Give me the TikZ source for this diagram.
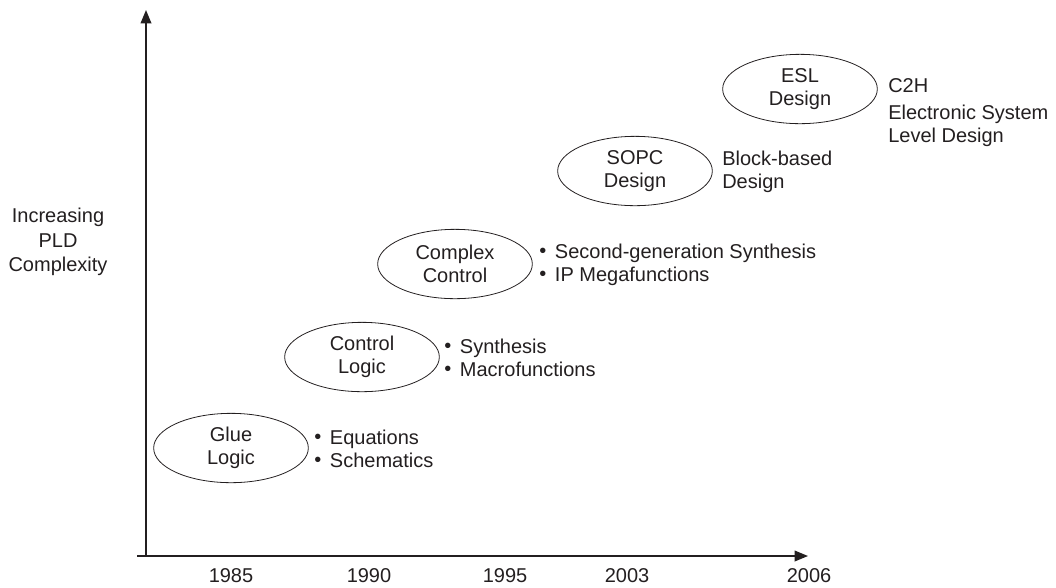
\documentclass[tikz,border=0pt]{standalone}
\usepackage{fontspec}
\setmainfont{Liberation Sans}
\usetikzlibrary{shapes.geometric,arrows.meta}
\definecolor{ink}{HTML}{231F20}
\newcommand{\bul}{{\raisebox{0.8pt}{\textbullet}}\hspace{6.5pt}}
\begin{document}
\begin{tikzpicture}[x=0.75pt,y=-0.75pt,
  every node/.style={text=ink,font=\fontsize{15}{17.5}\selectfont,inner sep=0pt},
  era/.style={draw=ink,ellipse,line width=0.6pt,minimum width=116pt,minimum height=52pt,align=center},
  notes/.style={anchor=west,align=left},
  axis/.style={draw=ink,line width=1.1pt,-{Triangle[length=10pt,width=8pt]}},
  year/.style={anchor=base}]
\useasboundingbox (0,0) rectangle (1056,587);
\coordinate (O) at (146,556);
\coordinate (ytip) at (146,10);
\coordinate (xtip) at (808,556);
\coordinate (xstart) at (137,556);
\draw[axis] (O) -- (ytip);
\draw[axis] (xstart) -- (xtip);
\node[align=center,font=\fontsize{15}{18.5}\selectfont] (ylab) at (58,242) {Increasing\\PLD\\Complexity};
\node[year] (y1985) at (231,582) {1985};
\node[year] (y1990) at (369,582) {1990};
\node[year] (y1995) at (505,582) {1995};
\node[year] (y2003) at (627,582) {2003};
\node[year] (y2006) at (809,582) {2006};
\node[era] (glue) at (231,448) {Glue\\Logic};
\node[era] (ctrl) at (362,357) {Control\\Logic};
\node[era] (cplx) at (455,264) {Complex\\Control};
\node[era] (sopc) at (635,171) {SOPC\\Design};
\node[era] (esl) at (800,89) {ESL\\Design};
\node[notes] (n1) at (314,449) {\bul Equations\\\bul Schematics};
\node[notes] (n2) at (444,358) {\bul Synthesis\\\bul Macrofunctions};
\node[notes] (n3) at (539,265) {\bul Second-generation Synthesis\\\bul IP Megafunctions};
\node[notes] (n4) at (722,172) {Block-based\\Design};
\node[notes] (n5) at (888,86) {C2H};
\node[notes] (n6) at (888,126) {Electronic System\\Level Design};
\end{tikzpicture}
\end{document}
